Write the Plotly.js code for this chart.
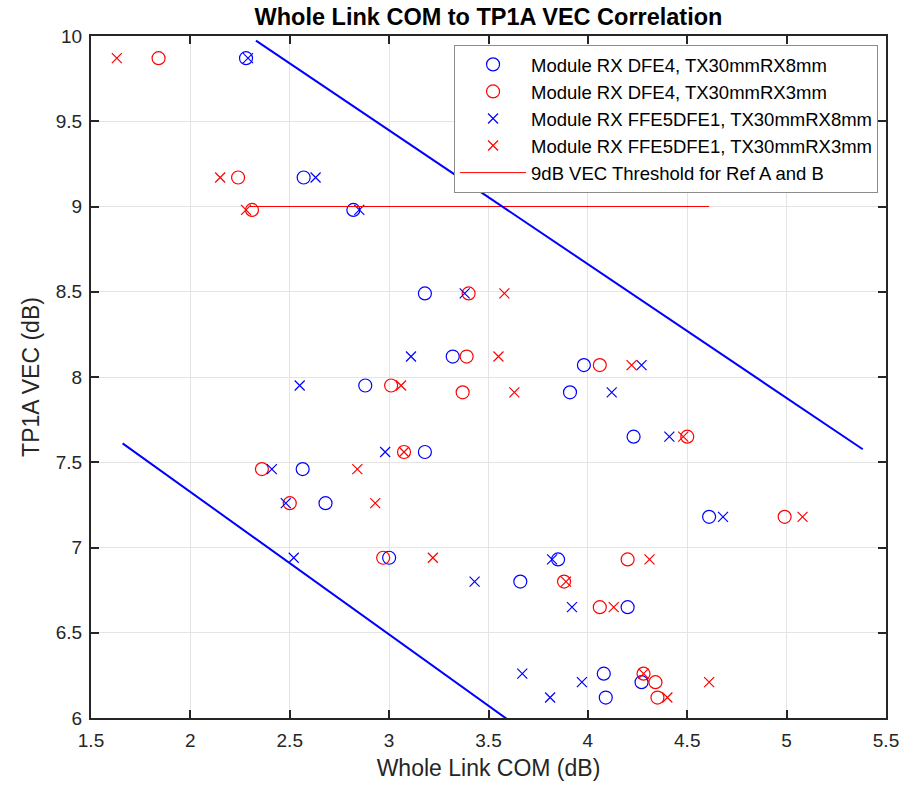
<!DOCTYPE html>
<html>
<head>
<meta charset="utf-8">
<script src="https://cdn.plot.ly/plotly-3.0.1.min.js"></script>
<style>html,body{margin:0;padding:0;background:#fff;}#chart{width:912px;height:785px;}</style>
</head>
<body>
<div id="chart"></div>
<script>
// TP1A VEC levels (dB), shared by all four series
const vec = [9.87, 9.17, 8.98, 8.49, 8.12, 8.07, 7.95, 7.91, 7.65, 7.56, 7.46, 7.26, 7.18, 6.94, 6.93, 6.80, 6.65, 6.26, 6.21, 6.12];
// Whole link COM (dB) for each series
const comDfe4Rx8 = [2.28, 2.57, 2.82, 3.18, 3.32, 3.98, 2.88, 3.91, 4.23, 3.18, 2.565, 2.68, 4.61, 3.00, 3.85, 3.66, 4.20, 4.08, 4.27, 4.09];
const comDfe4Rx3 = [1.84, 2.24, 2.31, 3.40, 3.39, 4.06, 3.01, 3.37, 4.50, 3.075, 2.36, 2.50, 4.99, 2.97, 4.20, 3.88, 4.06, 4.28, 4.34, 4.35];
const comFfeRx8 = [2.29, 2.63, 2.85, 3.38, 3.11, 4.27, 2.55, 4.12, 4.41, 2.98, 2.41, 2.48, 4.68, 2.52, 3.82, 3.43, 3.92, 3.67, 3.97, 3.81];
const comFfeRx3 = [1.63, 2.15, 2.28, 3.58, 3.55, 4.22, 3.06, 3.63, 4.48, 3.075, 2.84, 2.93, 5.08, 3.22, 4.31, 3.89, 4.13, 4.28, 4.61, 4.40];
// threshold and boundary lines
const thresholdX = [2.30, 4.61];
const thresholdY = [9, 9];
const upperLineX = [2.33, 5.383];
const upperLineY = [9.973, 7.576];
const lowerLineX = [1.659, 3.63];
const lowerLineY = [7.611, 5.963];
const seriesNames = ['Module RX DFE4, TX30mmRX8mm', 'Module RX DFE4, TX30mmRX3mm', 'Module RX FFE5DFE1, TX30mmRX8mm', 'Module RX FFE5DFE1, TX30mmRX3mm', '9dB VEC Threshold for Ref A and B'];
const xTicks = [1.5, 2, 2.5, 3, 3.5, 4, 4.5, 5, 5.5];
const yTicks = [6, 6.5, 7, 7.5, 8, 8.5, 9, 9.5, 10];

const FONT = 'Liberation Sans, Arial, Helvetica, sans-serif';
const BLUE = '#0000ff', RED = '#ff0000', AX = '#262626';

const traces = [
  {x: comDfe4Rx8, y: vec, name: seriesNames[0], type: 'scatter', mode: 'markers', cliponaxis: false,
   marker: {symbol: 'circle-open', size: 13, color: BLUE, line: {width: 1.2}}},
  {x: comDfe4Rx3, y: vec, name: seriesNames[1], type: 'scatter', mode: 'markers', cliponaxis: false,
   marker: {symbol: 'circle-open', size: 13, color: RED, line: {width: 1.2}}},
  {x: comFfeRx8, y: vec, name: seriesNames[2], type: 'scatter', mode: 'markers', cliponaxis: false,
   marker: {symbol: 'x-thin-open', size: 10, color: BLUE, line: {width: 1.2, color: BLUE}}},
  {x: comFfeRx3, y: vec, name: seriesNames[3], type: 'scatter', mode: 'markers', cliponaxis: false,
   marker: {symbol: 'x-thin-open', size: 10, color: RED, line: {width: 1.2, color: RED}}},
  {x: thresholdX, y: thresholdY, name: seriesNames[4], type: 'scatter', mode: 'lines',
   line: {color: RED, width: 1}},
  {x: upperLineX, y: upperLineY, type: 'scatter', mode: 'lines', showlegend: false, hoverinfo: 'skip',
   line: {color: BLUE, width: 2}},
  {x: lowerLineX, y: lowerLineY, type: 'scatter', mode: 'lines', showlegend: false, hoverinfo: 'skip',
   line: {color: BLUE, width: 2}}
];

const axisCommon = {
  showline: true, linecolor: AX, linewidth: 2, mirror: 'ticks',
  ticks: 'inside', ticklen: 8, tickwidth: 2, tickcolor: AX,
  showgrid: true, gridcolor: '#e4e4e4', gridwidth: 1, zeroline: false,
  tickfont: {family: FONT, size: 19, color: AX}
};

const layout = {
  width: 912, height: 785,
  paper_bgcolor: '#ffffff', plot_bgcolor: '#ffffff',
  margin: {l: 91, r: 26, t: 36, b: 67},
  title: {text: '<b>Whole Link COM to TP1A VEC Correlation</b>', font: {family: FONT, size: 23.5, color: '#000'},
          x: 0.5, xref: 'paper', xanchor: 'center', y: 1 - 17 / 785, yref: 'container', yanchor: 'middle'},
  xaxis: Object.assign({}, axisCommon, {range: [1.5, 5.5], tickvals: xTicks, ticktext: xTicks.map(String),
    ticklabelstandoff: 4,
    title: {text: 'Whole Link COM (dB)', font: {family: FONT, size: 23, color: AX}, standoff: 10}}),
  yaxis: Object.assign({}, axisCommon, {range: [6, 10], tickvals: yTicks, ticktext: yTicks.map(String),
    ticklabelstandoff: 3,
    title: {text: 'TP1A VEC (dB)', font: {family: FONT, size: 23, color: AX}, standoff: 10}}),
  legend: {x: 0.990, y: 0.987, xanchor: 'right', yanchor: 'top', bgcolor: '#ffffff',
           bordercolor: '#8c8c8c', borderwidth: 1, font: {family: FONT, size: 18.5, color: '#000'},
           itemwidth: 66, tracegroupgap: 0},
  showlegend: true
};

Plotly.newPlot('chart', traces, layout, {staticPlot: true, displayModeBar: false});
</script>
</body>
</html>
